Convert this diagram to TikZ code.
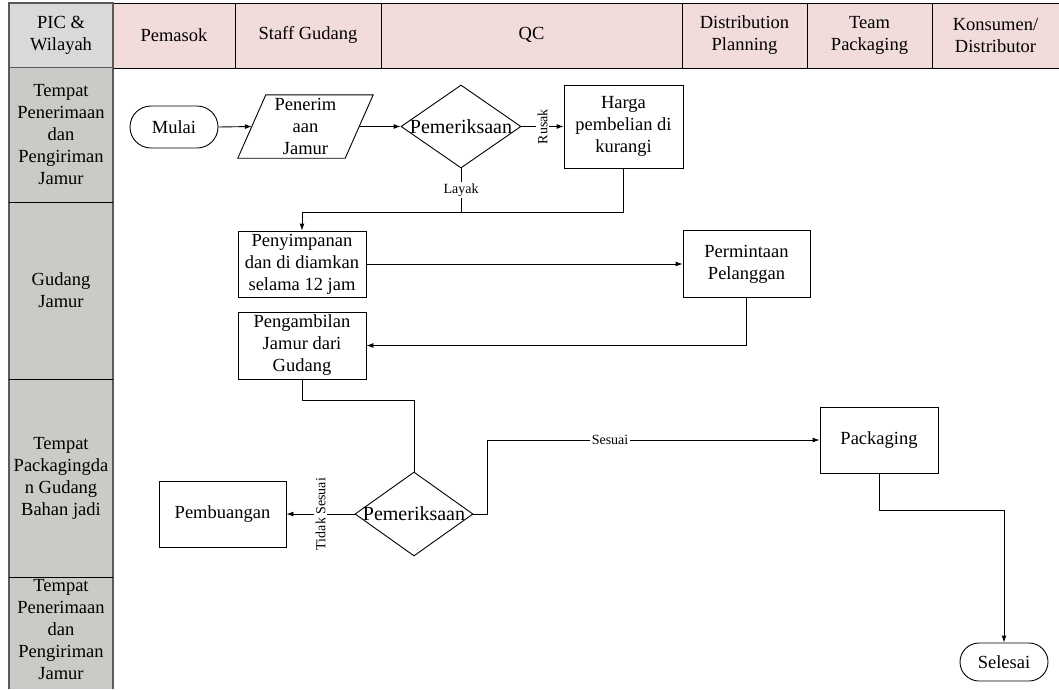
\documentclass[tikz,border=0pt]{standalone}
\usepackage{fontspec}
\setmainfont{Liberation Serif}
\usetikzlibrary{shapes.geometric,arrows.meta}
\definecolor{hdrpink}{HTML}{F2DCDB}
\definecolor{hdrgray}{HTML}{D9D9D9}
\definecolor{lanegray}{HTML}{C9CCC6}
\definecolor{edgegray}{HTML}{5A5A5A}
\tikzset{
  base/.style={font=\fontsize{18.5}{22}\selectfont, align=center, inner sep=0pt, text=black},
  dtext/.style={font=\fontsize{20}{22}\selectfont, inner sep=0pt, text=black},
  procbox/.style={base, draw, line width=0.9pt},
  termbox/.style={base, draw, line width=0.9pt},
  decide/.style={draw, diamond, line width=0.9pt, inner sep=0pt},
  lbl/.style={font=\fontsize{14}{16}\selectfont, fill=white, inner sep=1.5pt},
  flow/.style={line width=0.9pt, -{Latex[length=7pt,width=5pt]}},
  link/.style={line width=0.9pt},
  gridline/.style={line width=1pt},
}
\begin{document}
\begin{tikzpicture}[x=1pt,y=-1pt]
\useasboundingbox (0,0) rectangle (1059,689);

% header row
\fill[hdrpink] (113,3) rectangle (1059,68);
\draw[gridline] (113,3) -- (1059,3) (113,68) -- (1059,68);
\foreach \cx in {235,381,682,807,932} \draw[gridline] (\cx,3) -- (\cx,68);
\filldraw[fill=hdrgray, draw=edgegray, line width=1.2pt] (9,3) rectangle (113,68);

% lane column
\fill[lanegray] (9,68) rectangle (113,689);
\draw[edgegray, line width=1.2pt] (9,68) -- (9,689) (113,68) -- (113,689);
\foreach \ry in {202,379,577} \draw[gridline] (9,\ry) -- (113,\ry);

% header labels
\node[base] (h0) at (61,35) {PIC \&\\Wilayah};
\node[base] (h1) at (174,35) {Pemasok};
\node[base] (h2) at (308,35) {Staff Gudang};
\node[base] (h3) at (531.5,35) {QC};
\node[base] (h4) at (744.5,35) {Distribution\\Planning};
\node[base] (h5) at (869.5,35) {Team\\Packaging};
\node[base] (h6) at (995.5,35) {Konsumen/\\Distributor};

% lane labels
\node[base] (l1) at (61,135) {Tempat\\Penerimaan\\dan\\Pengiriman\\Jamur};
\node[base] (l2) at (61,290) {Gudang\\Jamur};
\node[base] (l3) at (61,478) {Tempat\\Packagingda\\n Gudang\\Bahan jadi};
\node[base] (l4) at (61,630) {Tempat\\Penerimaan\\dan\\Pengiriman\\Jamur};

% flow nodes
\node[termbox, minimum width=88pt, minimum height=42pt, rounded corners=21pt] (start) at (174,127) {Mulai};

\node[base, minimum width=135pt, minimum height=63pt] (terima) at (305.5,126.5) {Penerim\\aan\\Jamur};
\draw[link] (terima.south west) -- ([xshift=-28pt]terima.south east) -- (terima.north east) -- ([xshift=28pt]terima.north west) -- cycle;
\coordinate (terimaIn) at ([xshift=14pt]terima.west);
\coordinate (terimaOut) at ([xshift=-14pt]terima.east);

\node[decide, minimum width=120pt, minimum height=83pt, label={[dtext]center:Pemeriksaan}] (cek1) at (461,126.5) {};
\node[procbox, minimum width=119pt, minimum height=83pt] (harga) at (623.5,126.5) {Harga\\pembelian di\\kurangi};

\node[procbox, minimum width=128pt, minimum height=66pt] (simpan) at (302,264) {Penyimpanan\\dan di diamkan\\selama 12 jam};
\node[procbox, minimum width=127pt, minimum height=67pt] (minta) at (746.5,264) {Permintaan\\Pelanggan};
\node[procbox, minimum width=128pt, minimum height=67pt] (ambil) at (302,345.5) {Pengambilan\\Jamur dari\\Gudang};

\node[decide, minimum width=118pt, minimum height=84pt, label={[dtext]center:Pemeriksaan}] (cek2) at (414,514) {};
\node[procbox, minimum width=127pt, minimum height=66pt] (buang) at (222.5,514) {Pembuangan};
\node[procbox, minimum width=118pt, minimum height=66pt] (pack) at (879,440) {Packaging};
\node[termbox, minimum width=88pt, minimum height=38pt, rounded corners=19pt] (stop) at (1004,662) {Selesai};

% bends
\coordinate (j1) at (302,212);
\coordinate (j2) at (414,400);
\coordinate (j3) at (487,514);
\coordinate (j5) at (1004,510);

% connectors
\draw[flow] (start.east) -- (terimaIn);
\draw[flow] (terimaOut) -- (cek1.west);
\draw[flow] (cek1.east) -- node[lbl, rotate=90]{Rusak} (harga.west);
\draw[link] (cek1.south) -- node[lbl]{Layak} (cek1.south |- j1);
\draw[flow] (harga.south) |- (j1) -- (simpan.north);
\draw[flow] (simpan.east) -- (minta.west);
\draw[flow] (minta.south) |- (ambil.east);
\draw[link] (ambil.south) |- (j2) -- (cek2.north);
\draw[flow] (cek2.west) -- node[lbl, rotate=90]{Tidak Sesuai} (buang.east);
\draw[flow] (cek2.east) -- (j3) -- (j3 |- pack.west) -- node[lbl, pos=0.37]{Sesuai} (pack.west);
\draw[flow] (pack.south) |- (j5) -- (stop.north);
\end{tikzpicture}
\end{document}
